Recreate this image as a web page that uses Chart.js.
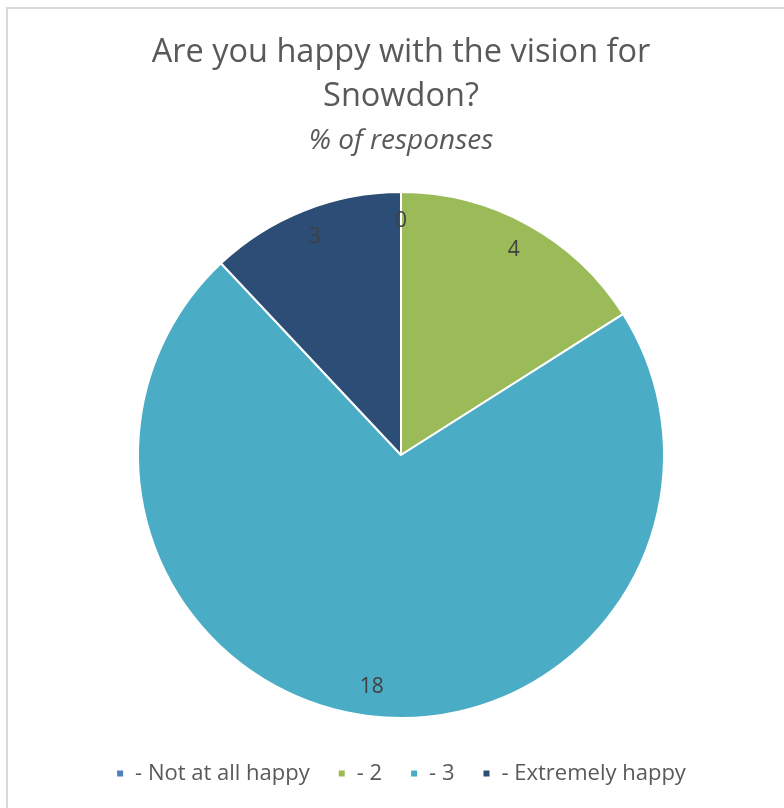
<!DOCTYPE html>
<html>
<head>
<meta charset="utf-8">
<script src="https://cdn.jsdelivr.net/npm/chart.js@4/dist/chart.umd.min.js"></script>
<style>
  html, body { margin: 0; padding: 0; background: #ffffff; }
  #wrap { position: relative; width: 784px; height: 808px; overflow: hidden; }
  #frame { position: absolute; left: 6px; top: 7px; width: 900px; height: 900px;
           border-top: 2px solid #d9d9d9; border-left: 2px solid #d9d9d9; pointer-events: none; }
  canvas { position: absolute; left: 0; top: 0; }
</style>
</head>
<body>
<div id="wrap">
  <canvas id="c" width="784" height="808"></canvas>
  <div id="frame"></div>
</div>
<script>
const titleLines = ['Are you happy with the vision for', 'Snowdon?'];
const subtitleText = '% of responses';
const categories = ['- Not at all happy', '- 2', '- 3', '- Extremely happy'];
const responses = [0, 4, 18, 3];
const sliceColors = ['#4f81bd', '#9bbb59', '#4bacc6', '#2c4d75'];

const FONT = '"Open Sans", Lato, sans-serif';

const sliceLabels = {
  id: 'sliceLabels',
  afterDatasetsDraw(chart) {
    const ctx = chart.ctx;
    const meta = chart.getDatasetMeta(0);
    ctx.save();
    ctx.font = '21px ' + FONT;
    ctx.fillStyle = '#404040';
    ctx.textAlign = 'center';
    ctx.textBaseline = 'middle';
    meta.data.forEach((arc, i) => {
      const p = arc.getProps(['x', 'y', 'startAngle', 'endAngle', 'outerRadius'], true);
      const mid = (p.startAngle + p.endAngle) / 2;
      const r = p.outerRadius * 0.89;
      ctx.fillText(String(chart.data.datasets[0].data[i]), p.x + Math.cos(mid) * r, p.y + Math.sin(mid) * r);
    });
    ctx.restore();
  }
};

new Chart(document.getElementById('c'), {
  type: 'pie',
  data: {
    labels: categories,
    datasets: [{
      data: responses,
      backgroundColor: sliceColors,
      borderColor: '#ffffff',
      borderWidth: 2
    }]
  },
  options: {
    responsive: false,
    animation: false,
    radius: 263,
    layout: { padding: { left: 18, right: 0, top: 0, bottom: 13.5 } },
    plugins: {
      title: {
        display: true,
        text: titleLines,
        color: '#595959',
        font: { family: FONT, size: 32.5, weight: 'normal', lineHeight: 44 / 32.5 },
        padding: { top: 31, bottom: 6 }
      },
      subtitle: {
        display: true,
        text: subtitleText,
        color: '#595959',
        font: { family: FONT, size: 28, style: 'italic', weight: 'normal', lineHeight: 32 / 28 },
        padding: { top: 0, bottom: 18.5 }
      },
      legend: {
        position: 'bottom',
        labels: {
          boxWidth: 8,
          boxHeight: 8,
          padding: 28,
          color: '#595959',
          font: { family: FONT, size: 22 }
        }
      },
      tooltip: { enabled: false }
    }
  },
  plugins: [sliceLabels]
});
</script>
</body>
</html>
